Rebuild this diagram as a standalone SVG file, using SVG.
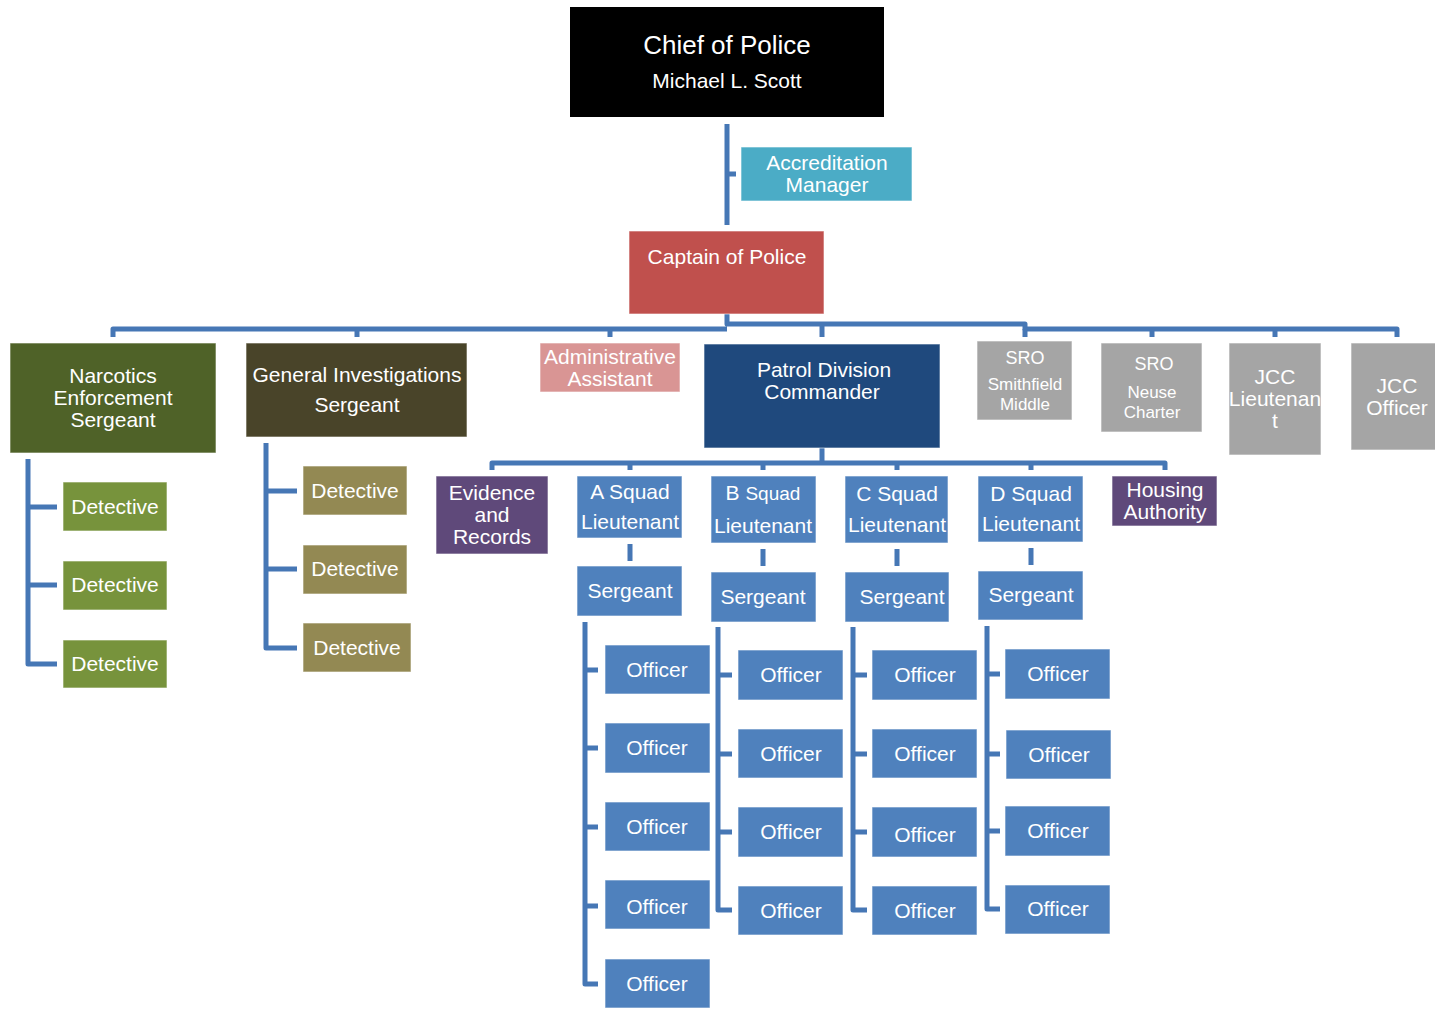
<svg xmlns="http://www.w3.org/2000/svg" width="1435" height="1009" viewBox="0 0 1435 1009">
<style>
text{font-family:"Liberation Sans",Arial,sans-serif;fill:#fff;text-anchor:middle;font-size:21px}
.b{stroke:#fff;stroke-opacity:.6;stroke-width:1}
.c{fill:none;stroke:#4677b5;stroke-width:5;stroke-linejoin:round}
.off{fill:#4f81bd}
.sm{font-size:18px}
</style>
<rect width="1435" height="1009" fill="#fff"/>
<g id="connectors" class="c">
<path d="M727 124V225M727 174H736"/>
<path d="M727 314V324H1025V329H1397V337M113 337V329H727"/>
<path d="M357 329V337M610 329V337M822 324V337M1025 329V337M1152 329V337M1275 329V337"/>
<path d="M28 459V664H57M28 507H57M28 585H57"/>
<path d="M266 443V648H297M266 491H297M266 569H297"/>
<path d="M822 448V463M492 470V463H1165V470M630 463V470M763 463V470M897 463V470M1031 463V470"/>
<path d="M630 544V561M763 549V566M897 549V566M1031 548V565"/>
<path d="M585 622V984H598M585 670H598M585 748H598M585 827H598M585 906H598"/>
<path d="M718 627V910H732M718 675H732M718 754H732M718 832H732"/>
<path d="M853 627V910H867M853 675H867M853 754H867M853 832H867"/>
<path d="M987 626V909H1000M987 674H1000M987 754H1000M987 831H1000"/>
</g>
<g id="chief"><rect x="570" y="7" width="314" height="110" fill="#000"/><text x="727" y="54" style="font-size:26px">Chief of Police</text><text x="727" y="88">Michael L. Scott</text></g>
<g id="accreditation"><rect class="b" x="741" y="147" width="171" height="54" fill="#4bacc6"/><text x="827" y="170">Accreditation</text><text x="827" y="192">Manager</text></g>
<g id="captain"><rect class="b" x="629" y="231" width="195" height="83" fill="#c0504d"/><text x="727" y="264">Captain of Police</text></g>
<g id="narcotics"><rect class="b" x="10" y="343" width="206" height="110" fill="#4f6228"/><text x="113" y="383">Narcotics</text><text x="113" y="405">Enforcement</text><text x="113" y="427">Sergeant</text></g>
<g id="general"><rect class="b" x="246" y="343" width="221" height="94" fill="#494429"/><text x="357" y="382">General Investigations</text><text x="357" y="412">Sergeant</text></g>
<g id="admin"><rect class="b" x="540" y="343" width="140" height="49" fill="#d99594"/><text x="610" y="364">Administrative</text><text x="610" y="386">Assistant</text></g>
<g id="patrol"><rect class="b" x="704" y="344" width="236" height="104" fill="#1f497d"/><text x="824" y="377">Patrol Division</text><text x="822" y="399">Commander</text></g>
<g id="sro-smithfield"><rect class="b" x="977" y="341" width="95" height="79" fill="#a5a5a5"/><text class="sm" x="1025" y="364">SRO</text><text x="1025" y="390" style="font-size:17px">Smithfield</text><text x="1025" y="410" style="font-size:17px">Middle</text></g>
<g id="sro-neuse"><rect class="b" x="1101" y="343" width="101" height="89" fill="#a5a5a5"/><text class="sm" x="1154" y="370">SRO</text><text x="1152" y="398" style="font-size:17px">Neuse</text><text x="1152" y="418" style="font-size:17px">Charter</text></g>
<g id="jcc-lt"><rect class="b" x="1229" y="343" width="92" height="112" fill="#a5a5a5"/><text x="1275" y="384">JCC</text><text x="1275" y="406">Lieutenan</text><text x="1275" y="428">t</text></g>
<g id="jcc-officer"><rect class="b" x="1351" y="343" width="85" height="107" fill="#a5a5a5"/><text x="1397" y="393">JCC</text><text x="1397" y="415">Officer</text></g>
<g id="nd1"><rect class="b" x="63" y="482" width="104" height="49" fill="#77933c"/><text x="115" y="514">Detective</text></g>
<g id="nd2"><rect class="b" x="63" y="561" width="104" height="49" fill="#77933c"/><text x="115" y="592">Detective</text></g>
<g id="nd3"><rect class="b" x="63" y="640" width="104" height="48" fill="#77933c"/><text x="115" y="671">Detective</text></g>
<g id="gd1"><rect class="b" x="303" y="466" width="104" height="49" fill="#938953"/><text x="355" y="498">Detective</text></g>
<g id="gd2"><rect class="b" x="303" y="545" width="104" height="49" fill="#938953"/><text x="355" y="576">Detective</text></g>
<g id="gd3"><rect class="b" x="303" y="623" width="108" height="49" fill="#938953"/><text x="357" y="655">Detective</text></g>
<g id="evidence"><rect class="b" x="436" y="476" width="112" height="78" fill="#5f497a"/><text x="492" y="500">Evidence</text><text x="492" y="522">and</text><text x="492" y="544">Records</text></g>
<g id="a-lt"><rect class="b off" x="577" y="476" width="105" height="62"/><text x="630" y="499">A Squad</text><text x="630" y="529">Lieutenant</text></g>
<g id="b-lt"><rect class="b off" x="711" y="476" width="105" height="67"/><text x="763" y="500">B <tspan style="font-size:19px">Squad</tspan></text><text x="763" y="533">Lieutenant</text></g>
<g id="c-lt"><rect class="b off" x="845" y="476" width="103" height="67"/><text x="897" y="501">C Squad</text><text x="897" y="532">Lieutenant</text></g>
<g id="d-lt"><rect class="b off" x="978" y="476" width="105" height="66"/><text x="1031" y="501">D Squad</text><text x="1031" y="531">Lieutenant</text></g>
<g id="housing"><rect class="b" x="1112" y="476" width="105" height="50" fill="#5f497a"/><text x="1165" y="497">Housing</text><text x="1165" y="519">Authority</text></g>
<g id="a-sgt"><rect class="b off" x="577" y="566" width="105" height="50"/><text x="630" y="598">Sergeant</text></g>
<g id="b-sgt"><rect class="b off" x="711" y="572" width="105" height="50"/><text x="763" y="604">Sergeant</text></g>
<g id="c-sgt"><rect class="b off" x="845" y="572" width="104" height="50"/><text x="902" y="604">Sergeant</text></g>
<g id="d-sgt"><rect class="b off" x="978" y="571" width="105" height="49"/><text x="1031" y="602">Sergeant</text></g>
<g id="ao1"><rect class="b off" x="605" y="645" width="105" height="49"/><text x="657" y="677">Officer</text></g>
<g id="ao2"><rect class="b off" x="605" y="723" width="105" height="50"/><text x="657" y="755">Officer</text></g>
<g id="ao3"><rect class="b off" x="605" y="802" width="105" height="49"/><text x="657" y="834">Officer</text></g>
<g id="ao4"><rect class="b off" x="605" y="880" width="105" height="49"/><text x="657" y="914">Officer</text></g>
<g id="ao5"><rect class="b off" x="605" y="959" width="105" height="49"/><text x="657" y="991">Officer</text></g>
<g id="bo1"><rect class="b off" x="738" y="650" width="105" height="50"/><text x="791" y="682">Officer</text></g>
<g id="bo2"><rect class="b off" x="738" y="729" width="105" height="49"/><text x="791" y="761">Officer</text></g>
<g id="bo3"><rect class="b off" x="738" y="807" width="105" height="50"/><text x="791" y="839">Officer</text></g>
<g id="bo4"><rect class="b off" x="738" y="886" width="105" height="49"/><text x="791" y="918">Officer</text></g>
<g id="co1"><rect class="b off" x="872" y="650" width="105" height="50"/><text x="925" y="682">Officer</text></g>
<g id="co2"><rect class="b off" x="872" y="729" width="105" height="49"/><text x="925" y="761">Officer</text></g>
<g id="co3"><rect class="b off" x="872" y="807" width="105" height="50"/><text x="925" y="842">Officer</text></g>
<g id="co4"><rect class="b off" x="872" y="886" width="105" height="49"/><text x="925" y="918">Officer</text></g>
<g id="do1"><rect class="b off" x="1005" y="649" width="105" height="50"/><text x="1058" y="681">Officer</text></g>
<g id="do2"><rect class="b off" x="1006" y="730" width="105" height="49"/><text x="1059" y="762">Officer</text></g>
<g id="do3"><rect class="b off" x="1005" y="806" width="105" height="50"/><text x="1058" y="838">Officer</text></g>
<g id="do4"><rect class="b off" x="1005" y="885" width="105" height="49"/><text x="1058" y="916">Officer</text></g>
</svg>
